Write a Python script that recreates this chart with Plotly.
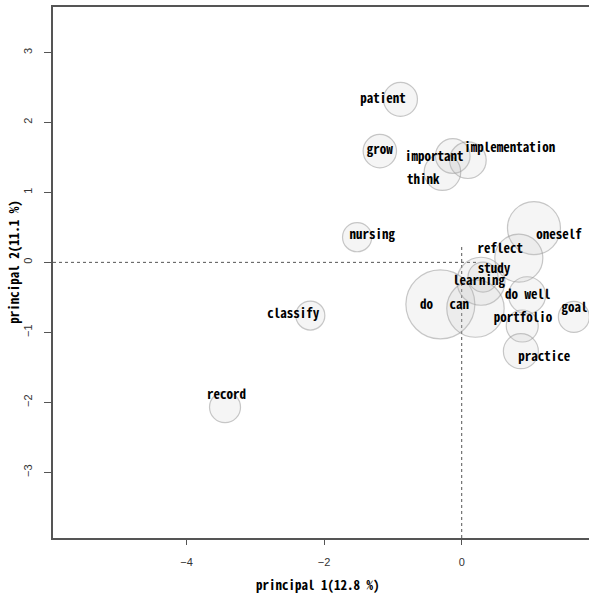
import plotly.graph_objects as go

# words and their coordinates on the first two principal components
words = ["patient", "grow", "important", "implementation", "think", "nursing",
         "oneself", "reflect", "learning", "study", "do", "can", "do well",
         "portfolio", "practice", "goal", "classify", "record"]
pc1 = [-0.89, -1.19, -0.13, 0.09, -0.28, -1.52,
       1.05, 0.83, 0.28, 0.31, -0.31, 0.20, 0.95,
       0.88, 0.86, 1.63, -2.20, -3.44]
pc2 = [2.33, 1.59, 1.52, 1.46, 1.29, 0.36,
       0.49, 0.06, -0.27, -0.21, -0.60, -0.66, -0.47,
       -0.91, -1.27, -0.78, -0.76, -2.07]
# relative bubble weight (frequency)
weight = [17, 16.7, 17.3, 18.3, 18.3, 14.6,
          26.5, 24, 24, 15, 34.5, 28.7, 18.5,
          16, 17.5, 15.5, 14.5, 15.5]
# label anchor positions (data units)
label_x = [-1.145, -1.19, -0.40, 0.70, -0.56, -1.30,
           1.415, 0.56, 0.25, 0.47, -0.51, -0.035, 0.96,
           0.89, 1.20, 1.64, -2.45, -3.42]
label_y = [2.32, 1.59, 1.50, 1.63, 1.16, 0.38,
           0.38, 0.18, -0.27, -0.11, -0.62, -0.62, -0.48,
           -0.81, -1.36, -0.66, -0.75, -1.90]

x_title = "principal 1(12.8 %)"
y_title = "principal 2(11.1 %)"
x_ticks = [-4, -2, 0]
y_ticks = [-3, -2, -1, 0, 1, 2, 3]
x_range = [-5.94, 1.85]
y_range = [-3.94, 3.65]
hline_x = [x_range[0], 0.22]
vline_y = [y_range[0], 0.26]

label_font = dict(family="Noto Sans Mono CJK JP, Noto Sans CJK JP, DejaVu Sans Mono",
                  size=13, color="black", weight="bold")
tick_font = dict(family="Liberation Sans, Arial", size=11, color="#333333")

fig = go.Figure()
fig.add_trace(go.Scatter(
    x=hline_x, y=[0, 0], mode="lines",
    line=dict(color="#555555", width=1, dash="dot"), hoverinfo="skip"))
fig.add_trace(go.Scatter(
    x=[0, 0], y=vline_y, mode="lines",
    line=dict(color="#555555", width=1, dash="dot"), hoverinfo="skip"))
fig.add_trace(go.Scatter(
    x=pc1, y=pc2, mode="markers", cliponaxis=False,
    marker=dict(size=weight, sizemode="diameter", sizeref=0.5,
                color="rgba(190,190,190,0.22)",
                line=dict(color="rgba(150,150,150,0.75)", width=1.2)),
    hovertext=words, hoverinfo="text"))
fig.add_trace(go.Scatter(
    x=label_x, y=label_y, mode="text", text=words, cliponaxis=False,
    textposition="middle center", textfont=label_font, hoverinfo="skip"))

fig.update_layout(
    width=589, height=594,
    margin=dict(l=53, r=0, t=7, b=56),
    paper_bgcolor="white", plot_bgcolor="white",
    showlegend=False,
    xaxis=dict(range=x_range, tickvals=x_ticks, showgrid=False, zeroline=False,
               showline=True, linecolor="#555555", linewidth=1.5, mirror=True,
               ticks="outside", ticklen=5, tickcolor="#555555",
               tickfont=tick_font, automargin=False, ticklabelstandoff=8),
    yaxis=dict(range=y_range, tickvals=y_ticks, showgrid=False, zeroline=False,
               showline=True, linecolor="#555555", linewidth=1.5,
               ticks="outside", ticklen=7, tickcolor="#555555", tickangle=-90,
               tickfont=tick_font, automargin=False, ticklabelstandoff=8),
    annotations=[
        dict(text=x_title, xref="paper", yref="paper", x=0.494, y=-0.0885,
             showarrow=False, font=label_font, xanchor="center", yanchor="middle"),
        dict(text=y_title, xref="paper", yref="paper", x=-0.0728, y=0.52,
             showarrow=False, font=label_font, textangle=-90,
             xanchor="center", yanchor="middle"),
    ],
)

# remove the browser's default page margin so the figure sits at the window corner
fig.write_html("out.html",
               config={"displayModeBar": False},
               post_script="document.body.style.margin='0';document.body.style.overflow='hidden';")
